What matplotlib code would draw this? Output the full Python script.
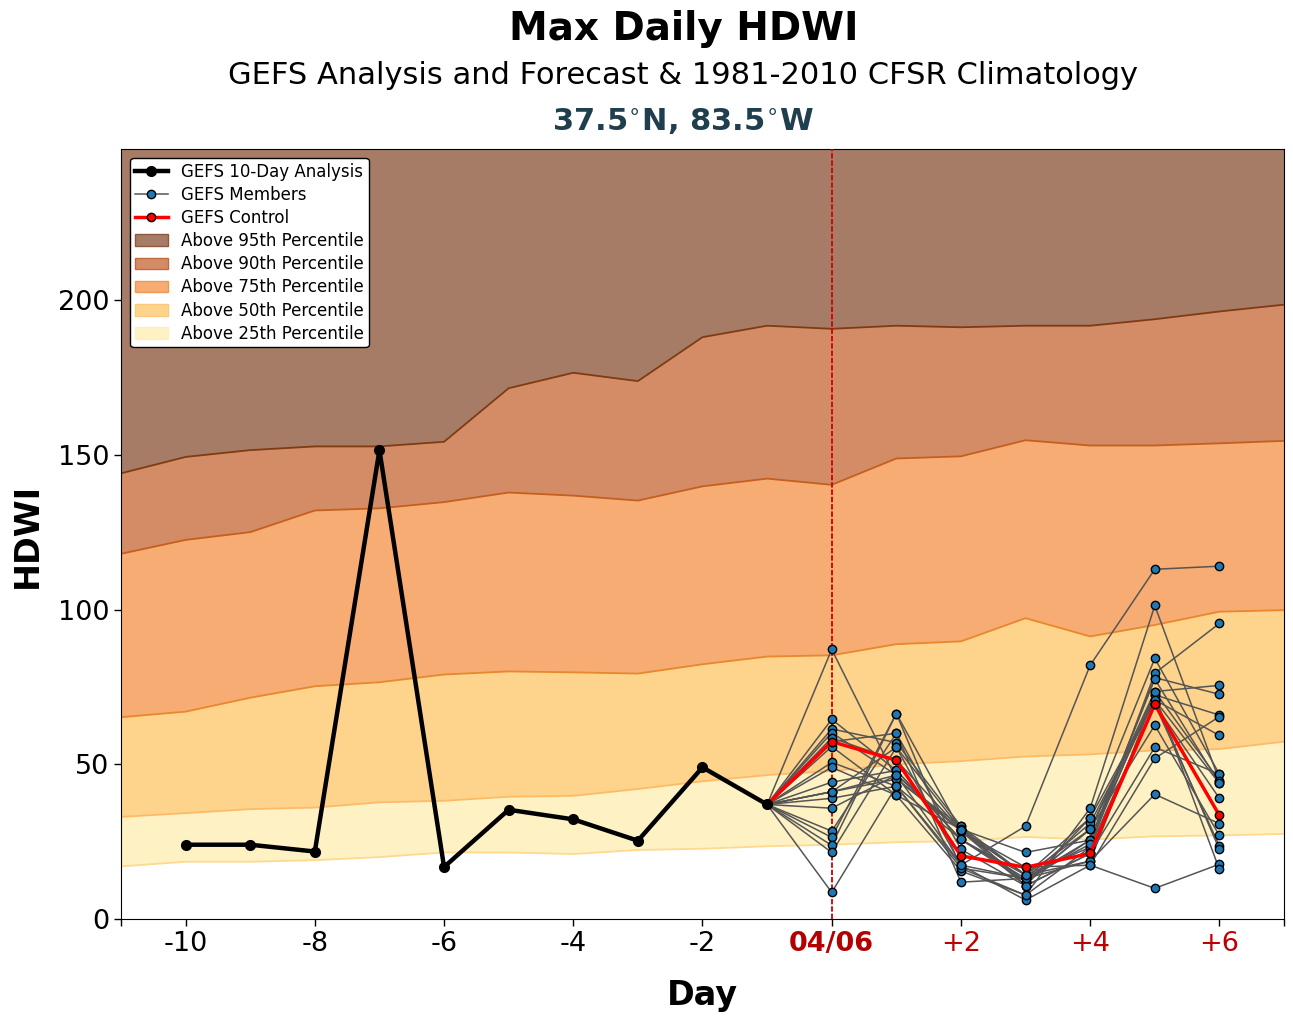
import matplotlib
matplotlib.use("Agg")
import matplotlib.pyplot as plt
from matplotlib.patches import Patch
from matplotlib.lines import Line2D

days_all = list(range(-11, 8))
p25 = [17, 18.5, 18.5, 19, 20, 21.5, 21.5, 21, 22.3, 22.7, 23.5, 24, 24.8, 25.2, 26.5, 25.7, 26.7, 27, 27.5]
p50 = [33, 34.2, 35.5, 36, 37.7, 38.2, 39.5, 39.8, 42, 44.5, 46.5, 47.8, 50, 51, 52.5, 53.2, 54.5, 54.9, 57.3]
p75 = [65.2, 67, 71.5, 75.2, 76.5, 79, 80, 79.7, 79.3, 82.3, 84.8, 85.2, 88.8, 89.7, 97.2, 91.3, 95, 99.3, 99.8]
p90 = [118, 122.5, 125, 132, 132.7, 134.7, 137.8, 136.8, 135.2, 139.8, 142.3, 140.3, 148.8, 149.5, 154.7, 153, 153, 153.7, 154.5]
p95 = [144, 149.3, 151.5, 152.7, 152.7, 154.2, 171.5, 176.5, 173.8, 188, 191.7, 190.7, 191.7, 191.2, 191.7, 191.7, 193.8, 196.3, 198.5]

analysis_days = [-10, -9, -8, -7, -6, -5, -4, -3, -2, -1]
analysis = [24, 24, 21.8, 151.5, 16.8, 35.3, 32.2, 25.3, 49, 37]

forecast_days = [-1, 0, 1, 2, 3, 4, 5, 6]
control = [37, 57.3, 51.3, 20.4, 16.7, 21.2, 69.4, 33.5]
m01 = [37, 87.1, 45.2, 28.7, 12, 29, 73.5, 75.5]
m02 = [37, 64.5, 48, 25.7, 13.1, 25.5, 78, 72.6]
m03 = [37, 61.4, 57, 30, 14.2, 23.2, 79.4, 95.5]
m04 = [37, 60.2, 46.5, 28.4, 10.7, 32.7, 84.2, 46.8]
m05 = [37, 55.7, 40, 29, 21.5, 25.5, 77.5, 43.8]
m06 = [37, 50.6, 42.9, 16.4, 13.1, 30.9, 70.8, 59.3]
m07 = [37, 49, 40, 15.5, 7.7, 35.8, 101.3, 44.7]
m08 = [37, 44.2, 48, 25.7, 14.2, 18.7, 72.4, 65.9]
m09 = [37, 41.1, 46.5, 28.7, 12, 29, 62.6, 27]
m10 = [37, 41.1, 45.2, 30, 10.7, 21.2, 55.5, 46.8]
m11 = [37, 39, 42.9, 17.4, 6.1, 17.4, 51.9, 65.4]
m12 = [37, 35.8, 46.5, 17.4, 30, 82, 113, 114]
m13 = [37, 28.4, 60, 11.9, 13.1, 18.7, 40.3, 30.8]
m14 = [37, 26.4, 66.4, 28.4, 16.7, 17.4, 9.9, 17.7]
m15 = [37, 23.8, 66.4, 16.4, 7.7, 23.2, 69.4, 23.6]
m16 = [37, 21.5, 55.5, 29, 14.2, 32.7, 70.8, 22.5]
m17 = [37, 8.6, 42.9, 25.7, 12, 25.5, 72.4, 16]
m18 = [37, 57.3, 60, 22.5, 10.7, 21.2, 69.4, 39]
m19 = [37, 41.1, 55.5, 17.4, 13.1, 24.2, 73.5, 44.7]
m20 = [37, 58.5, 51.3, 28.7, 14.2, 29, 70.8, 43.8]
members = [m01, m02, m03, m04, m05, m06, m07, m08, m09, m10,
           m11, m12, m13, m14, m15, m16, m17, m18, m19, m20]

xticks = [-11, -10, -8, -6, -4, -2, 0, 2, 4, 6, 7]
xticklabels = ["", "-10", "-8", "-6", "-4", "-2", "04/06", "+2", "+4", "+6", ""]
yticks = [0, 50, 100, 150, 200]

fig = plt.figure(figsize=(12.93, 10.21), dpi=100)
ax = fig.add_axes([121 / 1293, 1 - 919 / 1021, (1284 - 121) / 1293, (919 - 149) / 1021])

YMAX = 248.8
bands = [
    (p95, [YMAX] * len(p95), "#A67C66", "#7F3B12", "Above 95th Percentile"),
    (p90, p95, "#D48C67", "#7F3B12", "Above 90th Percentile"),
    (p75, p90, "#F6AC72", "#C55F1D", "Above 75th Percentile"),
    (p50, p75, "#FED38B", "#E8872D", "Above 50th Percentile"),
    (p25, p50, "#FEF1C4", "#FDBF6F", "Above 25th Percentile"),
]
for lo, hi, fc, ec, label in bands:
    ax.fill_between(days_all, lo, hi, facecolor=fc, edgecolor="none", zorder=1)
ax.plot(days_all, p95, color="#7F3B12", lw=1.3, zorder=2)
ax.plot(days_all, p90, color="#C55F1D", lw=1.3, zorder=2)
ax.plot(days_all, p75, color="#E8872D", lw=1.3, zorder=2)
ax.plot(days_all, p50, color="#FDBB66", lw=1.3, zorder=2)
ax.plot(days_all, p25, color="#FED98E", lw=1.3, zorder=2)

ax.axvline(0, color="#D00000", lw=1.3, ls=(0, (3, 1.05)), zorder=3)

for m in members:
    ax.plot(forecast_days[1:], m[1:], color="none", marker="o", ms=6,
            mfc="#1F77B4", mec="black", mew=1, zorder=6)
    ax.plot(forecast_days, m, color="#555555", lw=1.1, zorder=5)
ax.plot(forecast_days, control, color="red", lw=2.5, zorder=7)
ax.plot(forecast_days[1:], control[1:], color="none", marker="o", ms=6,
        mfc="red", mec="black", mew=1, zorder=8)
ax.plot(analysis_days, analysis, color="black", lw=3.2, marker="o", ms=7, zorder=9)

ax.set_xlim(-11, 7)
ax.set_ylim(0, YMAX)
ax.set_xticks(xticks)
ax.set_xticklabels(xticklabels)
ax.set_yticks(yticks)
ax.tick_params(axis="both", which="major", labelsize=19.5, length=5, width=1)
for lab, txt in zip(ax.get_xticklabels(), xticklabels):
    if txt == "04/06":
        lab.set_color("#B30000")
        lab.set_fontweight("bold")
    elif txt.startswith("+"):
        lab.set_color("#C00000")

fig.text(684 / 1293, 1 - 29 / 1021, "Max Daily HDWI", ha="center", va="center", fontsize=28, fontweight="bold")
fig.text(683 / 1293, 1 - 76 / 1021, "GEFS Analysis and Forecast & 1981-2010 CFSR Climatology",
         ha="center", va="center", fontsize=22)
fig.text(683 / 1293, 1 - 122 / 1021, r"37.5$^{\circ}$N, 83.5$^{\circ}$W", ha="center", va="center",
         fontsize=22, fontweight="bold", color="#1F3F4E", math_fontfamily="dejavusans")
fig.text(702 / 1293, 1 - 995 / 1021, "Day", ha="center", va="center", fontsize=24, fontweight="bold")
fig.text(27 / 1293, 1 - 535 / 1021, "HDWI", ha="center", va="center", rotation=90, fontsize=24, fontweight="bold")

handles = [
    Line2D([], [], color="black", lw=3.2, marker="o", ms=7, label="GEFS 10-Day Analysis"),
    Line2D([], [], color="#555555", lw=1.1, marker="o", ms=6, mfc="#1F77B4", mec="black", label="GEFS Members"),
    Line2D([], [], color="red", lw=2.5, marker="o", ms=6, mfc="red", mec="black", label="GEFS Control"),
]
edge_alpha = ["#8F5A3C", "#C26A3C", "#EC9A55", "#FBC97E", "#FEEFC0"]
for (lo, hi, fc, ec, label), e in zip(bands, edge_alpha):
    handles.append(Patch(facecolor=fc, edgecolor=e, label=label))
leg = ax.legend(handles=handles, loc="upper left", fontsize=12, framealpha=1, edgecolor="black",
                bbox_to_anchor=(0.0, 1.0), borderaxespad=0.55, labelspacing=0.31, borderpad=0.27)
leg.set_zorder(20)

fig.savefig("out.png", dpi=100)
